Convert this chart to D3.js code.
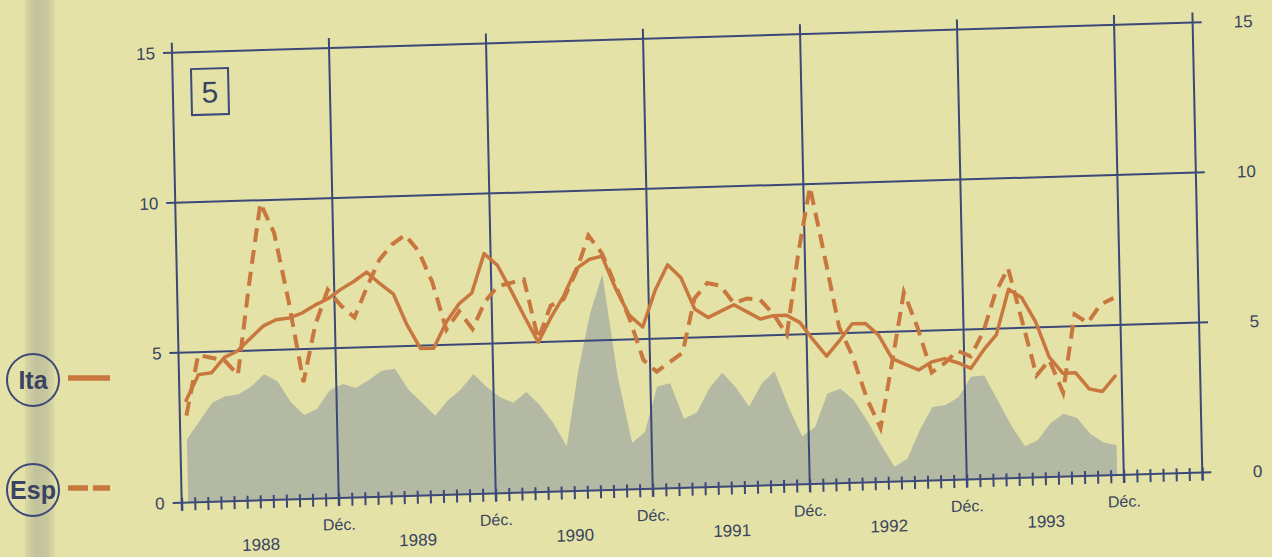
<!DOCTYPE html>
<html lang="fr">
<head>
  <meta charset="UTF-8">
  <title>Ita / Esp 1988-1993</title>
  <style>
    html, body {
      margin: 0;
      padding: 0;
      background: #e4e2a7;
    }
    svg {
      display: block;
    }
    text {
      font-family: "Liberation Sans", Arial, sans-serif;
      fill: #3a4461;
    }
  </style>
</head>
<body>
<div class="chart"></div>
<script src="https://d3js.org/d3.v7.min.js"></script>
<script>
  // valeurs mensuelles, janv. 1988 -> déc. 1993
  let years = [1988, 1989, 1990, 1991, 1992, 1993]
  let ita = [
    3.4, 4.25, 4.3, 4.8, 5.0, 5.4, 5.8, 6.0, 6.05, 6.2, 6.45, 6.65,
    6.95, 7.2, 7.5, 7.1, 6.75, 5.7, 4.9, 4.9, 5.75, 6.35, 6.7, 8.0,
    7.6, 6.75, 5.85, 5.0, 5.8, 6.5, 7.4, 7.7, 7.8, 6.7, 5.8, 5.4,
    6.6, 7.45, 7.0, 5.95, 5.65, 5.85, 6.05, 5.8, 5.55, 5.65, 5.65, 5.4,
    4.8, 4.25, 4.75, 5.3, 5.3, 4.9, 4.1, 3.9, 3.7, 3.95, 4.05, 3.9,
    3.7, 4.3, 4.8, 6.3, 6.0, 5.2, 4.0, 3.45, 3.45, 2.9, 2.8, 3.3
  ]
  let esp = [
    2.9, 4.9, 4.8, 4.7, 4.2, 7.2, 9.9, 8.9, 6.6, 3.9, 5.8, 6.95,
    6.4, 6.0, 7.0, 7.9, 8.4, 8.7, 8.15, 7.1, 5.5, 6.1, 5.5, 6.4,
    6.9, 7.0, 7.1, 5.1, 6.2, 6.4, 7.3, 8.5, 7.9, 6.8, 5.7, 4.3,
    3.9, 4.2, 4.5, 6.3, 6.8, 6.7, 6.1, 6.25, 6.2, 5.7, 5.0, 7.7,
    9.9, 7.6, 5.2, 4.2, 2.8, 1.8, 4.0, 6.3, 5.1, 3.6, 3.9, 4.3,
    4.1, 4.9, 6.2, 7.0, 5.2, 3.4, 3.9, 2.8, 5.4, 5.1, 5.7, 5.9
  ]
  let fond = [
    2.1, 2.7, 3.3, 3.5, 3.55, 3.8, 4.2, 3.95, 3.25, 2.8, 3.0, 3.6,
    3.8, 3.65, 3.9, 4.2, 4.25, 3.55, 3.1, 2.65, 3.15, 3.5, 4.0, 3.55,
    3.2, 3.0, 3.35, 2.9, 2.3, 1.5, 4.0, 5.9, 7.2, 3.8, 1.55, 1.9,
    3.4, 3.5, 2.3, 2.5, 3.3, 3.8, 3.3, 2.65, 3.4, 3.8, 2.6, 1.6,
    1.9, 3.0, 3.15, 2.75, 2.05, 1.25, 0.5, 0.75, 1.7, 2.45, 2.5, 2.75,
    3.42, 3.45, 2.6, 1.75, 1.05, 1.25, 1.8, 2.1, 1.95, 1.4, 1.1, 1.0
  ]
  let yTicks = [0, 5, 10, 15]
  let monthsTotal = 78 // janv. 1988 -> juin 1994
  let legend = [
    {name: 'Ita', dash: null},
    {name: 'Esp', dash: '20,5'}
  ]

  let width = 1272
  let height = 557
  let plotW = 1020.6
  let plotH = 450
  let ink = '#3b4878'
  let orange = '#c8773f'

  let svg = d3.select('.chart').append('svg').attr('width', width).attr('height', height)
  let xScale = d3.scaleLinear().domain([0, monthsTotal]).range([0, plotW])
  let yScale = d3.scaleLinear().domain([0, 15]).range([0, -plotH])

  drawChart()

  function drawChart () {
    drawBack()
    drawLegend()
    // la page scannée est légèrement de travers
    let plot = svg.append('g')
      .attr('transform', 'matrix(1,-0.0295,0.0215,1,181.7,502.7)')
    drawArea(plot)
    drawGrid(plot)
    drawAxis(plot)
    drawLines(plot)
    drawBox(plot)
  }

  function drawBack () {
    let grad = svg.append('defs').append('linearGradient').attr('id', 'pli')
    grad.append('stop').attr('offset', '0%').attr('stop-color', '#d9d8a4')
    grad.append('stop').attr('offset', '35%').attr('stop-color', '#c2c39c')
    grad.append('stop').attr('offset', '70%').attr('stop-color', '#c6c69d')
    grad.append('stop').attr('offset', '100%').attr('stop-color', '#dcdba6')
    svg.append('rect').attr('width', width).attr('height', height).attr('fill', '#e4e2a7')
    svg.append('rect').attr('x', 25).attr('width', 30).attr('height', height).attr('fill', 'url(#pli)')
  }

  function drawLegend () {
    let g = svg.selectAll('.legend').data(legend).enter().append('g')
      .attr('class', 'legend')
      .attr('transform', (d, i) => 'translate(33,' + (380 + i * 110) + ')')
    g.append('circle').attr('r', 26)
      .attr('fill', 'none').attr('stroke', ink).attr('stroke-width', 2)
    g.append('text').text(d => d.name)
      .attr('text-anchor', 'middle').attr('dy', '0.36em')
      .style('font-size', '25px').style('font-weight', 'bold')
    g.append('line').attr('x1', 35).attr('x2', 77).attr('y1', -2).attr('y2', -2)
      .attr('stroke', orange).attr('stroke-width', 5.5)
      .attr('stroke-dasharray', d => d.dash)
  }

  function drawArea (plot) {
    let area = d3.area()
      .x((d, i) => xScale(i + 0.5))
      .y0(yScale(0))
      .y1(d => yScale(d))
    plot.append('path').datum(fond)
      .attr('d', area)
      .attr('fill', '#b3b9a2')
  }

  function drawGrid (plot) {
    plot.selectAll('.hgrid').data(yTicks).enter().append('line')
      .attr('class', 'hgrid')
      .attr('x1', -9).attr('x2', plotW + 9)
      .attr('y1', d => yScale(d)).attr('y2', d => yScale(d))
      .attr('stroke', ink).attr('stroke-width', 2)

    let vTicks = [0].concat(years.map((y, i) => (i + 1) * 12), [monthsTotal])
    plot.selectAll('.vgrid').data(vTicks).enter().append('line')
      .attr('class', 'vgrid')
      .attr('x1', d => xScale(d)).attr('x2', d => xScale(d))
      .attr('y1', 8).attr('y2', yScale(15) - 10)
      .attr('stroke', ink).attr('stroke-width', 2)

    plot.selectAll('.ylab-l').data(yTicks).enter().append('text')
      .text(d => d)
      .attr('x', -17).attr('y', d => yScale(d)).attr('dy', '0.36em')
      .attr('text-anchor', 'end').style('font-size', '17px')
    plot.selectAll('.ylab-r').data(yTicks).enter().append('text')
      .text(d => d)
      .attr('x', plotW + 60).attr('y', d => yScale(d)).attr('dy', '0.36em')
      .attr('text-anchor', 'end').style('font-size', '17px')
  }

  function drawAxis (plot) {
    let xAxis = d3.axisBottom(xScale)
      .tickValues(d3.range(0, monthsTotal + 1))
      .tickSize(8)
      .tickFormat('')
    let gX = plot.append('g').attr('class', 'xAxis')
    xAxis(gX)
    gX.select('.domain').remove()
    gX.selectAll('.tick line').attr('y1', -5).attr('stroke', ink).attr('stroke-width', 2)

    plot.selectAll('.dec').data(years).enter().append('text')
      .text('Déc.')
      .attr('x', (d, i) => xScale((i + 1) * 12)).attr('y', 32)
      .attr('text-anchor', 'middle').style('font-size', '16px')
    plot.selectAll('.year').data(years).enter().append('text')
      .text(d => d)
      .attr('x', (d, i) => xScale(i * 12 + 6)).attr('y', 50)
      .attr('text-anchor', 'middle').style('font-size', '17px')
  }

  function drawLines (plot) {
    let line = d3.line()
      .x((d, i) => xScale(i + 0.5))
      .y(d => yScale(d))
    plot.append('path').datum(esp)
      .attr('d', line)
      .attr('fill', 'none').attr('stroke', orange).attr('stroke-width', 4)
      .attr('stroke-dasharray', '14,8')
    plot.append('path').datum(ita)
      .attr('d', line)
      .attr('fill', 'none').attr('stroke', orange).attr('stroke-width', 3.5)
      .attr('stroke-linejoin', 'round').attr('stroke-linecap', 'round')
  }

  function drawBox (plot) {
    plot.append('rect')
      .attr('x', 18.6).attr('y', -433).attr('width', 37).attr('height', 46)
      .attr('fill', 'none').attr('stroke', ink).attr('stroke-width', 2)
    plot.append('text').text('5')
      .attr('x', 37).attr('y', -399)
      .attr('text-anchor', 'middle').style('font-size', '30px')
  }
</script>
</body>
</html>
